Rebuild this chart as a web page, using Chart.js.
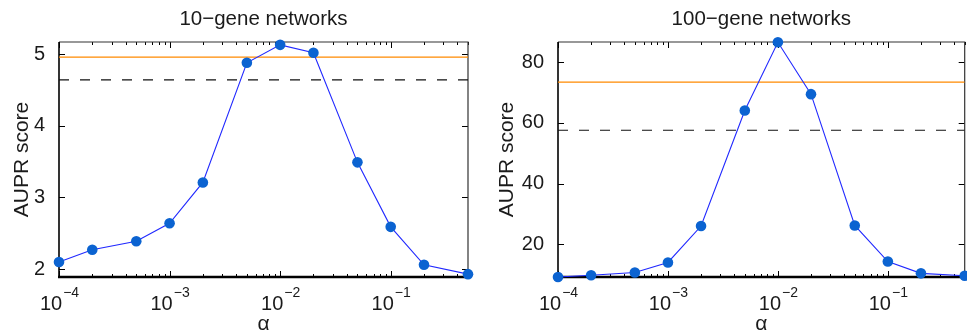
<!DOCTYPE html>
<html>
<head>
<meta charset="utf-8">
<script src="https://cdn.jsdelivr.net/npm/chart.js@4"></script>
<style>
  html, body { margin: 0; padding: 0; background: #fff; overflow: hidden; }
  body { width: 967px; height: 335px; position: relative; }
  .panel { position: absolute; top: 0; height: 335px; overflow: hidden; }
</style>
</head>
<body>
<div class="panel" style="left:0;width:480px"><canvas id="small" width="480" height="335"></canvas></div>
<div class="panel" style="left:480px;width:487px"><canvas id="large" width="490" height="335"></canvas></div>
<script>
const alphas = [1e-4, 2e-4, 5e-4, 1e-3, 2e-3, 5e-3, 1e-2, 2e-2, 5e-2, 1e-1, 2e-1, 5e-1];
const aupr10 = [2.10, 2.27, 2.39, 2.64, 3.21, 4.88, 5.13, 5.02, 3.49, 2.59, 2.06, 1.93];
const aupr100 = [9.2, 9.8, 10.7, 14.0, 26.0, 64.1, 86.6, 69.5, 26.2, 14.3, 10.4, 9.6];
const solidRef = [4.96, 73.5];   // orange line, 10-gene / 100-gene
const dashedRef = [4.64, 57.6];  // dashed black line
const xTicks = [1e-4, 1e-3, 1e-2, 1e-1];
const xExponents = ['\u22124', '\u22123', '\u22122', '\u22121'];
const yTicks10 = [2, 3, 4, 5];
const yTicks100 = [20, 40, 60, 80];

const FONT = '"Liberation Sans", Arial, Helvetica, sans-serif';

const framePlugin = {
    id: 'frame',
    beforeDatasetsDraw(chart) {
        const { ctx, chartArea: a, scales: { x, y } } = chart;
        ctx.save();
        ctx.strokeStyle = '#000';
        ctx.lineWidth = 1;
        ctx.beginPath();
        // log minor/major ticks, top and bottom, pointing inward
        for (let e = -4; e <= -1; e++) {
            for (let m = 1; m <= 9; m++) {
                const v = m * Math.pow(10, e);
                if (v > x.max * 1.0001) continue;
                const px = Math.round(x.getPixelForValue(v)) + 0.5;
                const len = m === 1 ? 6 : 3;
                ctx.moveTo(px, a.bottom); ctx.lineTo(px, a.bottom - len);
                ctx.moveTo(px, a.top); ctx.lineTo(px, a.top + len);
            }
        }
        y.ticks.forEach(t => {
            const py = Math.round(y.getPixelForValue(t.value)) + 0.5;
            ctx.moveTo(a.left, py); ctx.lineTo(a.left + 6, py);
            ctx.moveTo(a.right, py); ctx.lineTo(a.right - 6, py);
        });
        ctx.stroke();
        // box
        ctx.strokeStyle = '#333';
        ctx.lineWidth = 1.2;
        ctx.beginPath();
        ctx.moveTo(a.left, a.top); ctx.lineTo(a.right, a.top); ctx.lineTo(a.right, a.bottom);
        ctx.stroke();
        ctx.strokeStyle = '#000';
        ctx.lineWidth = 1.6;
        ctx.beginPath();
        ctx.moveTo(a.left, a.top); ctx.lineTo(a.left, a.bottom);
        ctx.stroke();
        ctx.lineWidth = 2.6;
        ctx.beginPath();
        ctx.moveTo(a.left - 1, a.bottom); ctx.lineTo(a.right, a.bottom);
        ctx.stroke();
        ctx.restore();
    },
    afterDraw(chart, args, opts) {
        const { ctx, chartArea: a, scales: { x } } = chart;
        ctx.save();
        ctx.fillStyle = '#1a1a1a';
        // title centred over the plot box
        ctx.font = '20.5px ' + FONT;
        ctx.textAlign = 'center';
        ctx.textBaseline = 'middle';
        ctx.fillText(opts.title, (a.left + a.right) / 2, 19);
        // x tick labels 10^n
        ctx.textBaseline = 'alphabetic';
        ctx.textAlign = 'left';
        xTicks.forEach((v, i) => {
            const px = x.getPixelForValue(v);
            ctx.font = '20px ' + FONT;
            const w1 = ctx.measureText('10').width;
            ctx.font = '14px ' + FONT;
            const w2 = ctx.measureText(xExponents[i]).width;
            const left = px - (w1 + w2) / 2;
            ctx.font = '20px ' + FONT;
            ctx.fillText('10', left, a.bottom + 33);
            ctx.font = '14px ' + FONT;
            ctx.fillText(xExponents[i], left + w1 + 1, a.bottom + 20);
        });
        ctx.restore();
    }
};

function makeChart(id, values, solid, dashed, yTicks, yMin, yMax, title, yWidth, padRight, yTitlePad) {
    const pts = alphas.map((a, i) => ({ x: a, y: values[i] }));
    const xMin = alphas[0], xMax = alphas[alphas.length - 1];
    return new Chart(document.getElementById(id), {
        type: 'line',
        data: {
            datasets: [
                {
                    data: pts,
                    borderColor: '#2028ff',
                    borderWidth: 1.1,
                    pointRadius: 5.3,
                    pointBackgroundColor: '#0b63d1',
                    pointBorderWidth: 0,
                    clip: false,
                    order: 0
                },
                {
                    data: [{ x: xMin, y: solid }, { x: xMax, y: solid }],
                    borderColor: '#ff8a00',
                    borderWidth: 1.3,
                    pointRadius: 0,
                    order: 1
                },
                {
                    data: [{ x: xMin, y: dashed }, { x: xMax, y: dashed }],
                    borderColor: '#111',
                    borderWidth: 1.2,
                    borderDash: [10, 11],
                    pointRadius: 0,
                    order: 2
                }
            ]
        },
        options: {
            responsive: false,
            animation: false,
            layout: { padding: { left: 0, right: padRight, top: 42, bottom: 0 } },
            plugins: {
                legend: { display: false },
                tooltip: { enabled: false },
                title: { display: false },
                frame: { title: title }
            },
            scales: {
                x: {
                    type: 'logarithmic',
                    min: xMin,
                    max: xMax,
                    grid: { display: false },
                    border: { display: false },
                    ticks: { display: false },
                    afterBuildTicks: s => { s.ticks = xTicks.map(v => ({ value: v })); },
                    afterFit: s => { s.height = 58; },
                    title: {
                        display: true,
                        text: '\u03b1',
                        color: '#1a1a1a',
                        font: { family: FONT, size: 21 },
                        padding: { top: 0, bottom: -2 }
                    }
                },
                y: {
                    min: yMin,
                    max: yMax,
                    grid: { display: false },
                    border: { display: false },
                    afterBuildTicks: s => { s.ticks = yTicks.map(v => ({ value: v })); },
                    afterFit: s => { s.width = yWidth; },
                    ticks: {
                        color: '#1a1a1a',
                        padding: 6,
                        font: { family: FONT, size: 20 }
                    },
                    title: {
                        display: true,
                        text: 'AUPR score',
                        color: '#1a1a1a',
                        font: { family: FONT, size: 21 },
                        padding: { top: yTitlePad, bottom: 0 }
                    }
                }
            }
        },
        plugins: [framePlugin]
    });
}

makeChart('small', aupr10, solidRef[0], dashedRef[0], yTicks10, 1.89, 5.17, '10\u2212gene networks', 59, 12, 9.5);
makeChart('large', aupr100, solidRef[1], dashedRef[1], yTicks100, 9.2, 86.7, '100\u2212gene networks', 78, 2, 15);
</script>
</body>
</html>
